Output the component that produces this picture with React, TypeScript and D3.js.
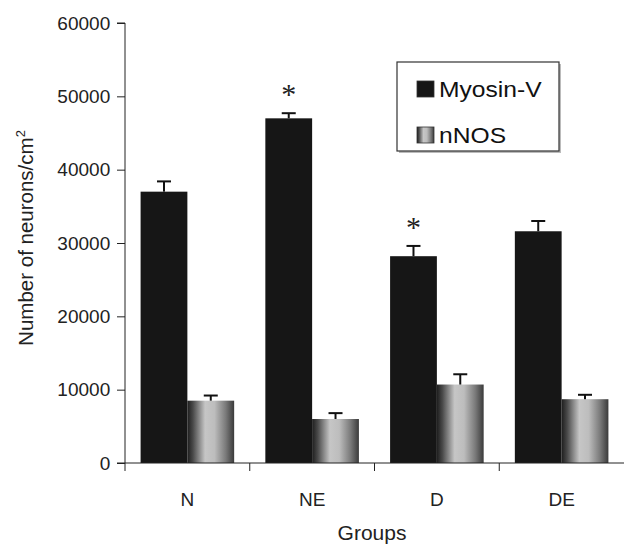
import React, { useEffect, useRef } from "react";
import * as d3 from "d3";

const groups = ["N", "NE", "D", "DE"];
const seriesNames = ["Myosin-V", "nNOS"];
const myosinValues = [37000, 47000, 28200, 31600];
const myosinErrors = [1400, 700, 1400, 1400];
const nnosValues = [8500, 6000, 10700, 8700];
const nnosErrors = [700, 800, 1400, 600];
const significant = [false, true, true, false];
const yTicks = [0, 10000, 20000, 30000, 40000, 50000, 60000];

const W = 624, H = 545;
const margin = { top: 23, right: 0, bottom: 82, left: 125 };

export default function App() {
  const ref = useRef<SVGSVGElement>(null);

  useEffect(() => {
    const svg = d3.select(ref.current);
    svg.selectAll("*").remove();
    const w = W - margin.left - margin.right;
    const h = H - margin.top - margin.bottom;
    const font = "Liberation Sans, Arial, sans-serif";

    const defs = svg.append("defs");
    const grad = defs.append("linearGradient").attr("id", "cyl").attr("x1", "0").attr("x2", "1").attr("y1", "0").attr("y2", "0");
    [["0%", "#1e1e1e"], ["12%", "#4a4a4a"], ["38%", "#c6c6c6"], ["58%", "#bdbdbd"], ["82%", "#7a7a7a"], ["100%", "#3a3a3a"]]
      .forEach(([o, c]) => grad.append("stop").attr("offset", o).attr("stop-color", c));

    const g = svg.append("g").attr("transform", `translate(${margin.left},${margin.top})`);

    const x = d3.scaleBand().domain(groups).range([0, w]).paddingInner(0.25).paddingOuter(0.125);
    const xOuter = d3.scaleBand().domain(groups).range([0, w]);
    const x1 = d3.scaleBand().domain(seriesNames).range([0, x.bandwidth()]);
    const y = d3.scaleLinear().domain([0, 60000]).range([h, 0]);

    const series = [
      { name: seriesNames[0], values: myosinValues, errs: myosinErrors, fill: "#161616" },
      { name: seriesNames[1], values: nnosValues, errs: nnosErrors, fill: "url(#cyl)" },
    ];

    series.forEach((s) => {
      const sg = g.append("g");
      sg.selectAll("rect")
        .data(groups)
        .join("rect")
        .attr("x", (d) => x(d)! + x1(s.name)!)
        .attr("width", x1.bandwidth())
        .attr("y", (d, i) => y(s.values[i]))
        .attr("height", (d, i) => h - y(s.values[i]))
        .attr("fill", s.fill);

      groups.forEach((d, i) => {
        const cx = x(d)! + x1(s.name)! + x1.bandwidth() / 2;
        const top = y(s.values[i] + s.errs[i]);
        sg.append("line").attr("x1", cx).attr("x2", cx).attr("y1", y(s.values[i])).attr("y2", top)
          .attr("stroke", "#111").attr("stroke-width", 2);
        sg.append("line").attr("x1", cx - 7).attr("x2", cx + 7).attr("y1", top).attr("y2", top)
          .attr("stroke", "#111").attr("stroke-width", 2);
      });
    });

    // asterisks
    groups.forEach((d, i) => {
      if (!significant[i]) return;
      const cx = x(d)! + x1(seriesNames[0])! + x1.bandwidth() / 2;
      g.append("text").attr("x", cx).attr("y", y(myosinValues[i] + myosinErrors[i]) - 9)
        .attr("text-anchor", "middle").attr("font-family", "Liberation Serif, Times New Roman, serif").attr("font-size", 30)
        .attr("fill", "#222").text("*");
    });

    // y axis
    const ya = g.append("g").call(d3.axisLeft(y).tickValues(yTicks).tickSize(8).tickFormat(d3.format("d")));
    ya.selectAll("path, line").attr("stroke", "#222");
    ya.selectAll("text").attr("font-family", font).attr("font-size", 19).attr("fill", "#222").attr("dx", "-0.2em");
    ya.select(".domain").attr("d", `M0,${h}V0H-8`);

    // x axis
    const xa = g.append("g").attr("transform", `translate(0,${h})`);
    xa.append("line").attr("x1", -8).attr("x2", w).attr("stroke", "#222");
    xa.selectAll(".tk").data(groups).join("line").attr("class", "tk")
      .attr("x1", (d) => xOuter(d)!).attr("x2", (d) => xOuter(d)!).attr("y1", 0).attr("y2", 8)
      .attr("stroke", "#222");
    xa.selectAll(".lb").data(groups).join("text").attr("class", "lb")
      .attr("x", (d) => x(d)! + x.bandwidth() / 2).attr("y", 43)
      .attr("text-anchor", "middle").attr("font-family", font).attr("font-size", 19).attr("fill", "#222")
      .text((d) => d);

    // axis titles
    svg.append("text").attr("x", 372).attr("y", 540).attr("text-anchor", "middle")
      .attr("font-family", font).attr("font-size", 21).attr("fill", "#222").text("Groups");
    const yt = svg.append("text").attr("transform", `translate(33,238) rotate(-90)`)
      .attr("text-anchor", "middle").attr("font-family", font).attr("font-size", 20.5).attr("fill", "#222");
    yt.append("tspan").text("Number of neurons/cm");
    yt.append("tspan").attr("dy", -8).attr("font-size", 13).text("2");

    // legend
    const lg = svg.append("g").attr("transform", "translate(397,62)");
    lg.append("rect").attr("x", 2).attr("y", 2).attr("width", 162).attr("height", 89).attr("fill", "#bbb");
    lg.append("rect").attr("width", 162).attr("height", 89).attr("fill", "#fff").attr("stroke", "#333").attr("stroke-width", 1.2);
    series.forEach((s, i) => {
      const row = lg.append("g").attr("transform", `translate(20,${19 + i * 46})`);
      row.append("rect").attr("width", 17).attr("height", 16).attr("fill", s.fill).attr("stroke", "#333").attr("stroke-width", 0.8);
      row.append("text").attr("transform", "translate(22,16) scale(1.12,1)").attr("font-family", font).attr("font-size", 22)
        .attr("fill", "#111").text(s.name);
    });
  }, []);

  return (
    <svg ref={ref} width={W} height={H} style={{ position: "absolute", left: 0, top: 0, background: "#fff" }} />
  );
}
